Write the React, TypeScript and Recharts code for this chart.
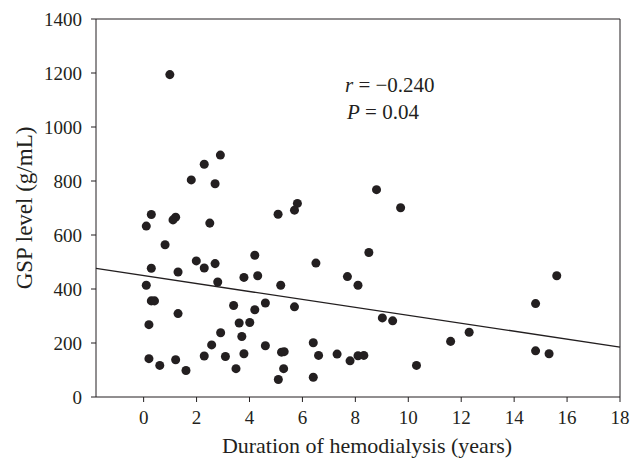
import React from 'react';
import {
  ScatterChart,
  Scatter,
  XAxis,
  YAxis,
  ReferenceLine,
  Label
} from 'recharts';

// duration of hemodialysis (years)
const durations = [
  0.99, 2.9, 2.29, 1.8, 2.7, 0.29, 1.21, 1.11, 0.1, 2.5,
  5.08, 0.81, 1.99, 2.29, 2.7, 4.2, 0.29, 1.3, 2.8, 3.79,
  4.31, 5.18, 0.1, 0.29, 0.41, 3.4, 4.2, 4.6, 1.3, 0.2,
  3.61, 4.01, 2.91, 3.71, 2.57, 4.6, 0.2, 0.61, 1.21, 2.29,
  3.09, 3.79, 3.49, 1.6, 5.21, 5.31, 5.09, 8.51, 6.51, 7.7,
  8.1, 5.7, 9.02, 9.41, 6.41, 6.61, 7.31, 7.8, 8.1, 8.32,
  10.31, 5.29, 6.41, 11.6, 15.61, 14.81, 12.3, 14.81, 15.32, 5.81,
  5.7, 8.8, 9.71
];

// GSP level (g/mL)
const gspLevels = [
  1194, 896, 862, 804, 790, 676, 666, 656, 633, 644,
  677, 564, 504, 478, 494, 525, 477, 463, 426, 443,
  449, 414, 414, 356, 356, 339, 323, 348, 309, 268,
  274, 276, 238, 224, 193, 190, 142, 117, 138, 152,
  150, 160, 105, 98, 166, 168, 65, 535, 496, 446,
  414, 334, 293, 282, 201, 154, 159, 134, 153, 154,
  117, 105, 73, 206, 449, 346, 240, 171, 160, 717,
  692, 768, 701
];

const xTicks = [0, 2, 4, 6, 8, 10, 12, 14, 16, 18];
const yTicks = [0, 200, 400, 600, 800, 1000, 1200, 1400];

// fitted regression line end points
const fitX = [-1.8, 18];
const fitY = [476, 185];

const points = durations.map((d, i) => ({ x: d, y: gspLevels[i] }));

const INK = '#231f20';
const FONT = '"Liberation Serif", "Times New Roman", serif';

const App = () => {
  return (
    <div style={{ position: 'relative', width: 633, height: 456, fontFamily: FONT }}>
      <ScatterChart
        width={633}
        height={456}
        margin={{ top: 11, right: 21, left: 16, bottom: 7 }}
      >
        <XAxis
          type="number"
          dataKey="x"
          domain={[fitX[0], 18]}
          ticks={xTicks}
          allowDataOverflow
          height={60}
          stroke={INK}
          tickSize={5}
          tickMargin={9}
          tick={{ fill: INK, fontSize: 19, fontFamily: FONT }}
        >
          <Label
            value="Duration of hemodialysis (years)"
            position="insideBottom"
            offset={4}
            dx={9}
            style={{ fill: INK, fontSize: 22, fontFamily: FONT }}
          />
        </XAxis>
        <YAxis
          type="number"
          dataKey="y"
          domain={[0, 1400]}
          ticks={yTicks}
          allowDataOverflow
          width={72}
          stroke={INK}
          tickSize={5}
          tickMargin={9}
          tick={{ fill: INK, fontSize: 19, fontFamily: FONT }}
        >
          <Label
            value="GSP level (g/mL)"
            angle={-90}
            position="insideLeft"
            offset={0}
            style={{ fill: INK, fontSize: 23, fontFamily: FONT, textAnchor: 'middle' }}
          />
        </YAxis>
        <ReferenceLine y={1400} stroke={INK} />
        <ReferenceLine x={18} stroke={INK} />
        <ReferenceLine
          segment={[{ x: fitX[0], y: fitY[0] }, { x: fitX[1], y: fitY[1] }]}
          stroke={INK}
          strokeWidth={1.3}
        />
        <Scatter data={points} fill={INK} isAnimationActive={false} />
      </ScatterChart>
      <div
        style={{
          position: 'absolute',
          left: 337,
          top: 64,
          fontSize: 21,
          lineHeight: '27px',
          color: INK,
          whiteSpace: 'nowrap'
        }}
      >
        <div><i>r</i> = −0.240</div>
        <div style={{ paddingLeft: 2 }}><i>P</i> = 0.04</div>
      </div>
    </div>
  );
};

export default App;
